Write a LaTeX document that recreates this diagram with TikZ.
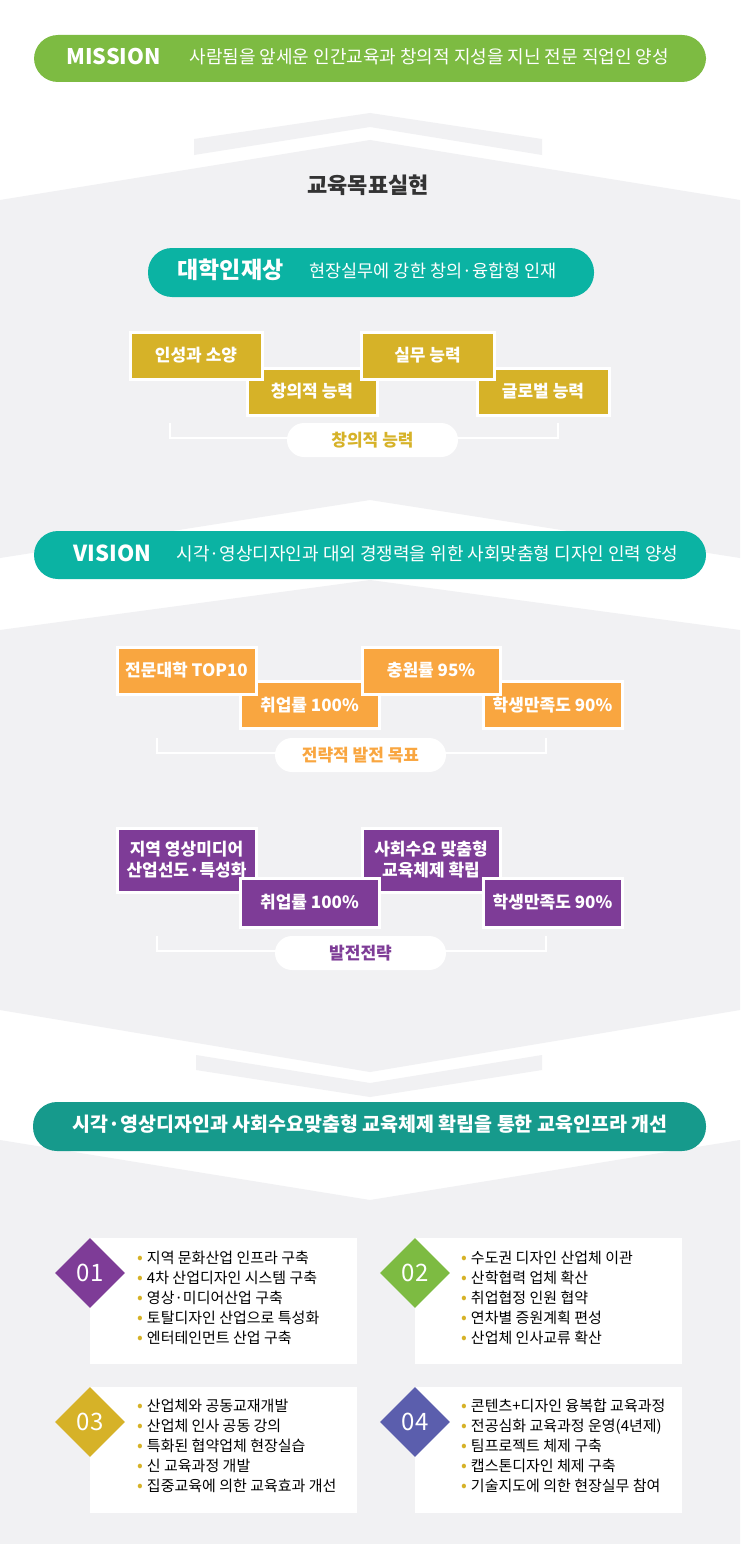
\documentclass[tikz,border=0pt]{standalone}
\usepackage{fontspec}
\setmainfont{Noto Sans CJK KR}
\usetikzlibrary{shapes.geometric}
\definecolor{cgreen}{HTML}{7DBB42}
\definecolor{cteal}{HTML}{0BB3A3}
\definecolor{cteald}{HTML}{169A8C}
\definecolor{cgold}{HTML}{D6B228}
\definecolor{corange}{HTML}{F9A640}
\definecolor{cpurple}{HTML}{7E3C97}
\definecolor{cblue}{HTML}{5B5EAD}
\definecolor{cgrey}{HTML}{F1F1F3}
\definecolor{cdark}{HTML}{333333}
\newcommand{\bul}{{\color{cgold}\fontsize{17}{14}\selectfont •}\hspace{4pt}}
\tikzset{
  pill/.style={rounded corners=24pt, inner sep=0pt},
  box/.style={fill=#1, draw=white, line width=3pt, text=white, font=\fontsize{17}{20}\selectfont\bfseries, align=center, minimum width=136pt, minimum height=47pt, inner sep=0pt},
  bracket/.style={draw=white, line width=2.5pt},
  tag/.style={fill=white, rounded corners=17pt, minimum width=171pt, minimum height=34pt, font=\fontsize{17}{18}\selectfont\bfseries, text=#1},
  card/.style={fill=white, minimum width=267pt, minimum height=126pt, inner sep=0pt},
  dia/.style={diamond, fill=#1, minimum width=70pt, minimum height=70pt, inner sep=0pt, text=white, font=\fontsize{24}{24}\selectfont},
  list/.style={anchor=north west, align=left, font=\fontsize{15}{20}\selectfont, text=black, inner sep=0pt}
}
\begin{document}
\begin{tikzpicture}[x=1pt,y=-1pt]
\useasboundingbox (0,0) rectangle (740,1544);
\fill[white] (0,0) rectangle (740,1544);
% background
\fill[cgrey] (0,200) -- (370,140) -- (740,200) -- (740,558) -- (370,500) -- (0,558) -- cycle;
\fill[cgrey] (0,630) -- (370,580) -- (740,630) -- (740,1010) -- (370,1072) -- (0,1010) -- cycle;
\fill[cgrey] (0,1140) -- (370,1200) -- (740,1140) -- (740,1544) -- (0,1544) -- cycle;
\fill[cgrey] (194,139) -- (370,113) -- (542,139) -- (542,155) -- (370,127) -- (194,155) -- cycle;
\fill[cgrey] (196,1055) -- (370,1083) -- (542,1055) -- (542,1070) -- (370,1097) -- (196,1070) -- cycle;

% mission
\node[pill, fill=cgreen, minimum width=672pt, minimum height=47pt] (mission) at (370,58.5) {};
\node[anchor=west, text=white, font=\fontsize{21.5}{22}\selectfont\bfseries] (mt) at (63,57) {MISSION};
\node[anchor=west, text=white, font=\fontsize{18}{20}\selectfont] (mtx) at (186,57) {사람됨을 앞세운 인간교육과 창의적 지성을 지닌 전문 직업인 양성};

\node[text=cdark, font=\fontsize{22}{22}\selectfont\bfseries] (goal) at (368,185) {교육목표실현};

% 대학인재상
\node[pill, fill=cteal, minimum width=446pt, minimum height=49pt] (ideal) at (371,272.5) {};
\node[anchor=west, text=white, font=\fontsize{23}{23}\selectfont\bfseries] (it) at (174,270) {대학인재상};
\node[anchor=west, text=white, font=\fontsize{17.5}{20}\selectfont] (itx) at (306,271) {현장실무에 강한 창의·융합형 인재};

\node[box=cgold, minimum width=130pt] (g2) at (312,391.5) {창의적 능력};
\node[box=cgold, minimum width=132pt] (g4) at (543,391.5) {글로벌 능력};
\node[box=cgold, minimum width=132pt] (g1) at (196,355.5) {인성과 소양};
\node[box=cgold, minimum width=133pt] (g3) at (427.5,355.5) {실무 능력};
\draw[bracket] (170,423) -- (170,438) -- (558,438) -- (558,423);
\node[tag=cgold] (gt) at (372.5,440) {창의적 능력};

% vision
\node[pill, fill=cteal, minimum width=672pt, minimum height=48pt] (vision) at (370,555) {};
\node[anchor=west, text=white, font=\fontsize{22}{22}\selectfont\bfseries] (vt) at (70,553) {VISION};
\node[anchor=west, text=white, font=\fontsize{18}{20}\selectfont] (vtx) at (173,554) {시각·영상디자인과 대외 경쟁력을 위한 사회맞춤형 디자인 인력 양성};

\node[box=corange, minimum width=139pt] (o2) at (309.5,705) {취업률 100\%};
\node[box=corange, minimum width=139pt] (o4) at (552.5,705) {학생만족도 90\%};
\node[box=corange, minimum width=139pt] (o1) at (186.5,670.5) {전문대학 TOP10};
\node[box=corange, minimum width=138pt] (o3) at (431,670.5) {충원률 95\%};
\draw[bracket] (157,738) -- (157,753) -- (546,753) -- (546,738);
\node[tag=corange] (ot) at (360.5,755) {전략적 발전 목표};

\node[box=cpurple, minimum width=139pt, minimum height=64pt] (p1) at (186.5,860) {지역 영상미디어\\[1pt]산업선도·특성화};
\node[box=cpurple, minimum width=138pt, minimum height=64pt] (p3) at (431,860) {사회수요 맞춤형\\[1pt]교육체제 확립};
\node[box=cpurple, minimum width=139pt, minimum height=49pt] (p2) at (309.5,902.5) {취업률 100\%};
\node[box=cpurple, minimum width=139pt, minimum height=49pt] (p4) at (552.5,902.5) {학생만족도 90\%};
\draw[bracket] (157,936) -- (157,951) -- (546,951) -- (546,936);
\node[tag=cpurple] (pt) at (360.5,953) {발전전략};

% bottom banner
\node[pill, fill=cteald, minimum width=673pt, minimum height=49pt] (infra) at (369.5,1126.5) {};
\node[text=white, font=\fontsize{19.5}{20}\selectfont\bfseries] (inft) at (370,1124) {시각·영상디자인과 사회수요맞춤형 교육체제 확립을 통한 교육인프라 개선};

% cards
\node[card] (c1) at (223.5,1301) {};
\node[card] (c2) at (548,1301) {};
\node[card] (c3) at (223.5,1449.5) {};
\node[card] (c4) at (548,1449.5) {};
\node[dia=cpurple] (d1) at (90,1273) {01};
\node[dia=cgreen] (d2) at (415,1273) {02};
\node[dia=cgold] (d3) at (90,1422) {03};
\node[dia=cblue] (d4) at (415,1422) {04};
\node[list] (l1) at (137,1251) {\bul 지역 문화산업 인프라 구축\\\bul 4차 산업디자인 시스템 구축\\\bul 영상·미디어산업 구축\\\bul 토탈디자인 산업으로 특성화\\\bul 엔터테인먼트 산업 구축};
\node[list] (l2) at (461,1251) {\bul 수도권 디자인 산업체 이관\\\bul 산학협력 업체 확산\\\bul 취업협정 인원 협약\\\bul 연차별 증원계획 편성\\\bul 산업체 인사교류 확산};
\node[list] (l3) at (137,1399) {\bul 산업체와 공동교재개발\\\bul 산업체 인사 공동 강의\\\bul 특화된 협약업체 현장실습\\\bul 신 교육과정 개발\\\bul 집중교육에 의한 교육효과 개선};
\node[list] (l4) at (461,1399) {\bul 콘텐츠+디자인 융복합 교육과정\\\bul 전공심화 교육과정 운영(4년제)\\\bul 팀프로젝트 체제 구축\\\bul 캡스톤디자인 체제 구축\\\bul 기술지도에 의한 현장실무 참여};
\end{tikzpicture}
\end{document}
